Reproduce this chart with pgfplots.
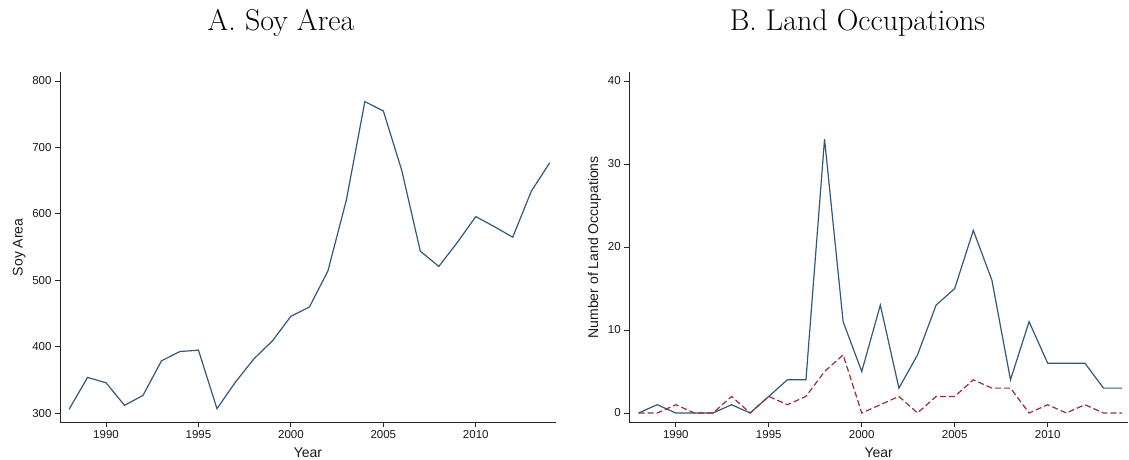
\documentclass[border=0pt]{standalone}
\usepackage{pgfplots}
\pgfplotsset{compat=1.18}
\usepackage{fontspec}
\newfontfamily\arial{Liberation Sans}
\definecolor{stnavy}{RGB}{52,88,122}
\definecolor{stmaroon}{RGB}{150,48,56}

\pgfplotstableread{
year soy
1988 306
1989 354
1990 346
1991 312
1992 327
1993 379
1994 393
1995 395
1996 307
1997 347
1998 382
1999 409
2000 446
2001 460
2002 514
2003 621
2004 769
2005 755
2006 665
2007 544
2008 521
2009 557
2010 596
2011 581
2012 565
2013 634
2014 677
}\soytable

\pgfplotstableread{
year total sub
1988 0 0
1989 1 0
1990 0 1
1991 0 0
1992 0 0
1993 1 2
1994 0 0
1995 2 2
1996 4 1
1997 4 2
1998 33 5
1999 11 7
2000 5 0
2001 13 1
2002 3 2
2003 7 0
2004 13 2
2005 15 2
2006 22 4
2007 16 3
2008 4 3
2009 11 0
2010 6 1
2011 6 0
2012 6 1
2013 3 0
2014 3 0
}\occtable

\pgfplotsset{
  stata/.style={
    scale only axis,
    anchor=south west,
    axis x line*=bottom,
    axis y line*=left,
    axis line style={-, line width=0.9pt, black!85},
    tick align=outside,
    major tick length=5pt,
    tick style={line width=0.9pt, black!85},
    /pgf/number format/assume math mode=true,
    /pgf/number format/1000 sep={},
    ticklabel style={font=\fontsize{11.5}{13}\selectfont\arial, text=black!90},
    label style={font=\fontsize{14}{16}\selectfont\arial, text=black!90},
    xlabel style={yshift=-2pt},
    xtick={1990,1995,2000,2005,2010},
    xmin=1987.51, xmax=2014.34,
    clip=false,
  }
}

\begin{document}
\begin{tikzpicture}
\useasboundingbox (0,0) rectangle (1129pt,459pt);

\node[anchor=base, font=\fontsize{30}{36}\selectfont] at (281pt,428pt) {A. Soy Area};
\node[anchor=base, font=\fontsize{30}{36}\selectfont] at (857.5pt,428pt) {B. Land Occupations};

\begin{axis}[stata,
  at={(60pt,36.7pt)},
  width=496pt, height=350pt,
  ymin=286.5, ymax=813.1,
  ytick={300,400,500,600,700,800},
  xlabel={Year},
  ylabel={Soy Area},
]
\addplot[stnavy, line width=1.2pt] table[x=year, y=soy] {\soytable};
\end{axis}

\begin{axis}[stata,
  at={(629.3pt,36.7pt)},
  width=498.7pt, height=350pt,
  xmin=1987.5, xmax=2014.32,
  ymin=-1.12, ymax=41.05,
  ytick={0,10,20,30,40},
  xlabel={Year},
  ylabel={Number of Land Occupations},
]
\addplot[stnavy, line width=1.2pt] table[x=year, y=total] {\occtable};
\addplot[stmaroon, line width=1.2pt, dash pattern=on 6pt off 3pt] table[x=year, y=sub] {\occtable};
\end{axis}
\end{tikzpicture}
\end{document}
